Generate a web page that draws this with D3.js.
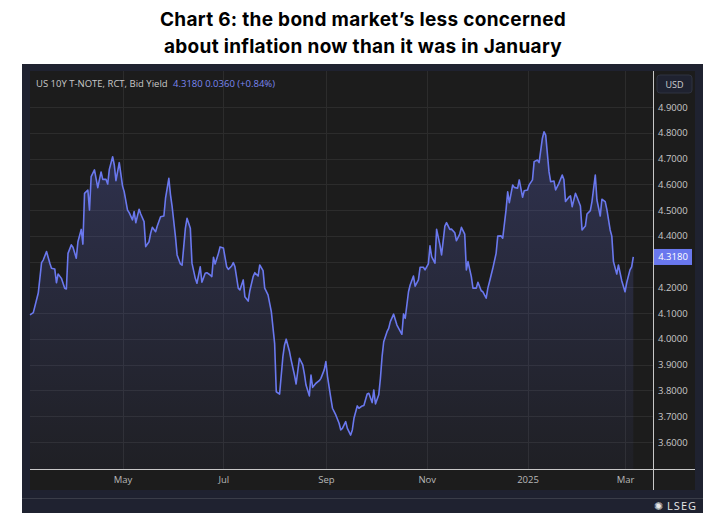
<!DOCTYPE html>
<html><head><meta charset="utf-8">
<script src="https://cdn.jsdelivr.net/npm/d3@7/dist/d3.min.js"></script>
<style>body{margin:0;background:#fff;}svg{display:block;}</style>
</head><body>
<script>
// Data: days after 2024-03-06, and 10Y yield
const dayOffsets = [0,2,5,7,8,10,12,13,15,16,17,19,21,22,23,25,26,28,29,31,32,33,35,36,37,39,41,43,44,46,47,48,50,51,52,54,56,57,59,60,62,63,64,66,67,69,70,72,73,74,76,77,79,81,82,84,85,86,88,89,91,92,94,95,97,98,100,101,
103,104,106,107,109,110,111,112,114,115,117,119,120,122,123,124,126,127,129,130,132,133,135,136,138,139,141,142,144,146,148,149,151,153,154,155,157,158,160,161,163,165,166,167,169,170,171,173,175,176,178,179,180,182,183,185,187,188,189,191,192,194,195,196,198,199,201,202,204,205,207,208,209,211,212,213,214,216,217,218,
220,222,225,226,227,229,230,232,233,235,236,238,239,241,242,243,245,246,248,249,251,252,254,255,257,258,260,261,263,264,265,267,268,270,271,273,274,276,277,278,280,282,283,285,286,288,289,290,292,293,295,296,298,299,301,302,304,305,307,308,310,311,312,314,315,317,318,320,322,323,324,326,327,328,330,331,333,334,336,337,339,340,342,343,345,346,348,349,351,352,353,355,356,358,360,361,363,364,365];
const yields = [4.093,4.102,4.178,4.296,4.306,4.339,4.294,4.274,4.271,4.218,4.252,4.235,4.197,4.194,4.332,4.365,4.356,4.313,4.377,4.425,4.368,4.565,4.578,4.500,4.630,4.656,4.587,4.648,4.619,4.619,4.601,4.658,4.707,4.675,4.614,4.684,4.593,4.571,4.500,4.490,4.462,4.494,4.451,4.503,4.485,4.455,4.358,4.377,4.410,4.433,4.416,4.438,4.474,4.477,4.546,4.623,4.559,4.513,4.397,4.326,4.291,4.286,4.429,4.468,4.429,4.294,4.235,4.216,
4.280,4.220,4.255,4.257,4.248,4.242,4.317,4.291,4.332,4.357,4.353,4.280,4.270,4.283,4.296,4.280,4.197,4.190,4.229,4.164,4.147,4.187,4.242,4.257,4.244,4.287,4.265,4.197,4.171,4.106,3.983,3.795,3.786,3.931,3.977,3.999,3.951,3.918,3.860,3.825,3.925,3.899,3.864,3.821,3.779,3.860,3.812,3.828,3.838,3.847,3.880,3.912,3.854,3.770,3.731,3.705,3.673,3.647,3.653,3.679,3.653,3.627,3.647,3.692,3.740,3.731,3.740,3.742,3.786,3.789,3.753,3.802,3.748,3.783,3.847,3.931,3.989,4.028,4.041,4.067,
4.096,4.054,4.018,4.097,4.080,4.183,4.209,4.244,4.205,4.229,4.278,4.278,4.268,4.291,4.361,4.319,4.294,4.425,4.365,4.326,4.438,4.451,4.425,4.426,4.412,4.381,4.407,4.433,4.407,4.268,4.300,4.242,4.197,4.197,4.220,4.187,4.183,4.158,4.197,4.222,4.274,4.332,4.399,4.400,4.391,4.500,4.571,4.529,4.597,4.588,4.585,4.617,4.550,4.575,4.578,4.598,4.617,4.688,4.694,4.684,4.779,4.804,4.791,4.649,4.610,4.613,4.578,4.604,4.636,4.619,4.533,4.550,4.555,4.513,4.565,4.550,4.516,4.423,4.438,4.485,4.498,4.533,4.636,4.539,4.477,4.542,4.533,4.503,4.423,4.399,4.300,4.252,4.287,4.226,4.183,4.218,4.268,4.280,4.318];
const yTicks = [3.6,3.7,3.8,3.9,4.0,4.1,4.2,4.3,4.4,4.5,4.6,4.7,4.8,4.9];
const xTickDates = ["2024-05-01","2024-07-01","2024-09-01","2024-11-01","2025-01-01","2025-03-01"];
const xTickLabels = ["May","Jul","Sep","Nov","2025","Mar"];
const startDate = new Date(2024,2,6);
const data = dayOffsets.map((d,i)=>({date:d3.timeDay.offset(startDate,d), v:yields[i]}));

const W=726,H=532;
const svg=d3.select("body").append("svg").attr("width",W).attr("height",H);
const font="'Open Sans',sans-serif";
svg.append("text").attr("x",363).attr("y",26).attr("text-anchor","middle").attr("font-family","Inter,sans-serif").attr("font-weight",700).attr("font-size",19).attr("letter-spacing",0.3).attr("fill","#000").text("Chart 6: the bond market’s less concerned");
svg.append("text").attr("x",363).attr("y",53).attr("text-anchor","middle").attr("font-family","Inter,sans-serif").attr("font-weight",700).attr("font-size",19).attr("letter-spacing",0.3).attr("fill","#000").text("about inflation now than it was in January");
svg.append("rect").attr("x",22).attr("y",64).attr("width",681).attr("height",449).attr("fill","#1f2230");
svg.append("rect").attr("x",30).attr("y",71).attr("width",665).attr("height",419).attr("fill","#1c1c1c");
svg.append("line").attr("x1",22).attr("x2",703).attr("y1",498.5).attr("y2",498.5).attr("stroke","#3a3d48");

const x=d3.scaleTime().domain([startDate,d3.timeDay.offset(startDate,365)]).range([30,633.3]);
const y=d3.scaleLinear().domain([3.6,4.9]).range([442,107]);
const plotL=30,plotR=653,plotT=71,plotB=469;
const g=svg.append("g");
g.selectAll(".hg").data(yTicks).join("line").attr("x1",plotL).attr("x2",plotR).attr("y1",d=>Math.round(y(d))+0.5).attr("y2",d=>Math.round(y(d))+0.5).attr("stroke","#2c2c2c");
g.selectAll(".vg").data(xTickDates).join("line").attr("x1",d=>Math.round(x(new Date(d+"T00:00")))+0.5).attr("x2",d=>Math.round(x(new Date(d+"T00:00")))+0.5).attr("y1",plotT).attr("y2",plotB).attr("stroke","#2c2c2c");
const defs=svg.append("defs");
const gr=defs.append("linearGradient").attr("id","fillg").attr("x1",0).attr("x2",0).attr("y1",0).attr("y2",1);
gr.append("stop").attr("offset","0%").attr("stop-color","#5c66c8").attr("stop-opacity",0.3);
gr.append("stop").attr("offset","100%").attr("stop-color","#5c66c8").attr("stop-opacity",0.05);
g.append("path").datum(data).attr("d",d3.area().x(d=>x(d.date)).y0(plotB).y1(d=>y(d.v))).attr("fill","url(#fillg)");
g.append("path").datum(data).attr("d",d3.line().x(d=>x(d.date)).y(d=>y(d.v))).attr("fill","none").attr("stroke","#6a78ee").attr("stroke-width",1.6).attr("stroke-linejoin","round");
svg.append("line").attr("x1",plotL).attr("x2",695).attr("y1",plotB+0.5).attr("y2",plotB+0.5).attr("stroke","#c8c8c8");
svg.append("line").attr("x1",plotR+0.5).attr("x2",plotR+0.5).attr("y1",plotT).attr("y2",490).attr("stroke","#c8c8c8");
const last=yields[yields.length-1];
// y labels (the one hidden under the last-value badge is omitted, as in the reference)
const yAxis=svg.append("g").attr("transform",`translate(${plotR},0)`).call(d3.axisRight(y).tickValues(yTicks.filter(t=>Math.abs(y(t)-y(last))>10)).tickFormat(d3.format(".4f")).tickSize(0).tickPadding(5));
yAxis.select(".domain").remove();
yAxis.selectAll("text").attr("fill","#c8c8c8").attr("font-family",font).attr("font-size",9.5);
const xAxis=svg.append("g").attr("transform",`translate(0,${plotB})`).call(d3.axisBottom(x).tickValues(xTickDates.map(d=>new Date(d+"T00:00"))).tickFormat((d,i)=>xTickLabels[i]).tickSize(0).tickPadding(7));
xAxis.select(".domain").remove();
xAxis.selectAll("text").attr("fill","#b8b8b8").attr("font-family",font).attr("font-size",9.5);
const lg=svg.append("text").attr("x",36).attr("y",87).attr("font-family",font).attr("font-size",9.5);
lg.append("tspan").attr("fill","#c8c8c8").text("US 10Y T-NOTE, RCT, Bid Yield ");
lg.append("tspan").attr("fill","#7b87f0").attr("dx",3).text("4.3180  0.0360 (+0.84%)");
svg.append("rect").attr("x",657).attr("y",75).attr("width",35).attr("height",18).attr("rx",3).attr("fill","#1f2230").attr("stroke","#2e3240");
svg.append("text").attr("x",674.5).attr("y",88).attr("text-anchor","middle").attr("font-family",font).attr("font-size",9).attr("fill","#d0d0d0").text("USD");
svg.append("rect").attr("x",654).attr("y",y(last)-8).attr("width",38).attr("height",16).attr("fill","#6a78ee");
svg.append("text").attr("x",673).attr("y",y(last)+3.5).attr("text-anchor","middle").attr("font-family",font).attr("font-size",9.5).attr("fill","#fff").text(d3.format(".4f")(last));
svg.append("text").attr("x",697).attr("y",510).attr("text-anchor","end").attr("font-family",font).attr("font-size",11).attr("letter-spacing",1).attr("fill","#e8e8e8").text("LSEG");
svg.append("text").attr("x",663).attr("y",510).attr("text-anchor","end").attr("font-family","DejaVu Sans").attr("font-size",11).attr("fill","#e8e8e8").text("✺");
</script>
</body></html>
